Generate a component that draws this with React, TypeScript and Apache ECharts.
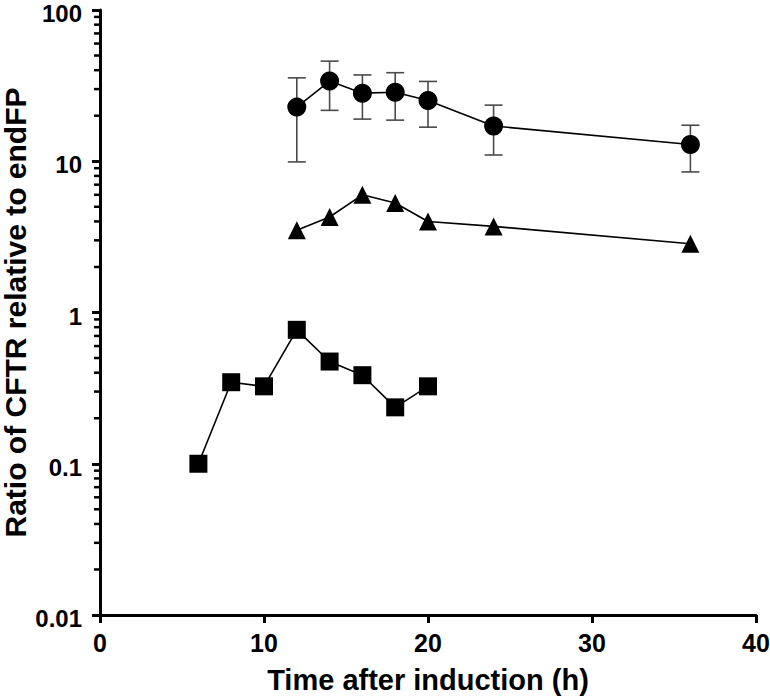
import React, { useEffect, useRef } from "react";
import * as echarts from "echarts";

const circleX = [12, 14, 16, 18, 20, 24, 36];
const circleY = [22.8, 33.9, 28.2, 28.6, 25.2, 17.1, 12.9];
const circleLow = [9.9, 21.7, 19.0, 18.7, 16.8, 11.0, 8.5];
const circleHigh = [35.6, 45.9, 37.2, 38.5, 33.7, 23.5, 17.3];

const triangleX = [12, 14, 16, 18, 20, 24, 36];
const triangleY = [3.5, 4.28, 6.0, 5.3, 4.0, 3.71, 2.85];

const squareX = [6, 8, 10, 12, 14, 16, 18, 20];
const squareY = [0.1, 0.346, 0.325, 0.768, 0.474, 0.385, 0.236, 0.325];

const yMinorTicks = [
  0.02, 0.03, 0.04, 0.05, 0.06, 0.07, 0.08, 0.09,
  0.2, 0.3, 0.4, 0.5, 0.6, 0.7, 0.8, 0.9,
  2, 3, 4, 5, 6, 7, 8, 9,
  20, 30, 40, 50, 60, 70, 80, 90,
];

const FONT = "'Liberation Sans', Arial, sans-serif";

export default function App() {
  const ref = useRef<HTMLDivElement>(null);
  useEffect(() => {
    if (!ref.current) return;
    const chart = echarts.init(ref.current, null, { renderer: "svg" });
    const errData = circleX.map((x, i) => [x, circleLow[i], circleHigh[i]]);
    const option: any = {
      animation: false,
      backgroundColor: "#ffffff",
      grid: { left: 100, right: 14, top: 10, bottom: 83, containLabel: false, outerBoundsMode: "none" },
      xAxis: {
        type: "value",
        min: 0,
        max: 40,
        interval: 10,
        name: "Time after induction (h)",
        nameLocation: "middle",
        nameGap: 50,
        nameMoveOverlap: false,
        nameTextStyle: { fontFamily: FONT, fontWeight: "bold", fontSize: 29, color: "#000" },
        axisLine: { lineStyle: { color: "#000", width: 3 } },
        axisTick: { show: true, length: 8, lineStyle: { color: "#000", width: 3 } },
        axisLabel: { margin: 15, fontFamily: FONT, fontWeight: "bold", fontSize: 25, color: "#000" },
        splitLine: { show: false },
      },
      yAxis: {
        type: "log",
        logBase: 10,
        min: 0.01,
        max: 100,
        name: "Ratio of CFTR relative to endFP",
        nameLocation: "middle",
        nameGap: 73,
        nameMoveOverlap: false,
        nameTextStyle: { fontFamily: FONT, fontWeight: "bold", fontSize: 30, lineHeight: 24, color: "#000" },
        axisLine: { lineStyle: { color: "#000", width: 3 } },
        axisTick: { show: true, length: 8, lineStyle: { color: "#000", width: 3 } },
        axisLabel: {
          margin: 18,
          color: "#000",
          formatter: (v: number) => "{v|" + String(+v.toPrecision(6)) + "}",
          rich: {
            v: {
              fontFamily: FONT,
              fontWeight: "bold",
              fontSize: 24,
              lineHeight: 12,
              padding: [7, 0, 0, 0],
              color: "#000",
            },
          },
        },
        splitLine: { show: false },
      },
      series: [
        {
          type: "custom",
          name: "minorTicks",
          clip: false,
          silent: true,
          data: yMinorTicks.map((v) => [0, v]),
          renderItem: (params: any, api: any) => {
            const p = api.coord([0, api.value(1)]);
            return {
              type: "line",
              shape: { x1: p[0] - 6, y1: p[1], x2: p[0], y2: p[1] },
              style: { stroke: "#000", lineWidth: 2.5 },
            };
          },
          z: 1,
        },
        {
          type: "custom",
          name: "errors",
          clip: false,
          silent: true,
          data: errData,
          renderItem: (params: any, api: any) => {
            const x = api.value(0);
            const lo = api.coord([x, api.value(1)]);
            const hi = api.coord([x, api.value(2)]);
            const hw = 9;
            const st = { stroke: "#4a4a4a", lineWidth: 1.6 };
            return {
              type: "group",
              children: [
                { type: "line", shape: { x1: lo[0], y1: lo[1], x2: hi[0], y2: hi[1] }, style: st },
                { type: "line", shape: { x1: lo[0] - hw, y1: lo[1], x2: lo[0] + hw, y2: lo[1] }, style: st },
                { type: "line", shape: { x1: hi[0] - hw, y1: hi[1], x2: hi[0] + hw, y2: hi[1] }, style: st },
              ],
            };
          },
          z: 2,
        },
        {
          type: "line",
          name: "circle",
          data: circleX.map((x, i) => [x, circleY[i]]),
          symbol: "circle",
          symbolSize: 19,
          lineStyle: { color: "#000", width: 1.6 },
          itemStyle: { color: "#000" },
          z: 3,
        },
        {
          type: "line",
          name: "triangle",
          data: triangleX.map((x, i) => [x, triangleY[i]]),
          symbol: "triangle",
          symbolSize: 18,
          lineStyle: { color: "#000", width: 1.6 },
          itemStyle: { color: "#000" },
          z: 3,
        },
        {
          type: "line",
          name: "square",
          data: squareX.map((x, i) => [x, squareY[i]]),
          symbol: "rect",
          symbolSize: 18,
          lineStyle: { color: "#000", width: 1.6 },
          itemStyle: { color: "#000" },
          z: 3,
        },
      ],
    };
    chart.setOption(option);
    return () => chart.dispose();
  }, []);
  return (
    <div
      ref={ref}
      style={{ position: "fixed", left: 0, top: 0, width: 770, height: 698, background: "#fff" }}
    />
  );
}
